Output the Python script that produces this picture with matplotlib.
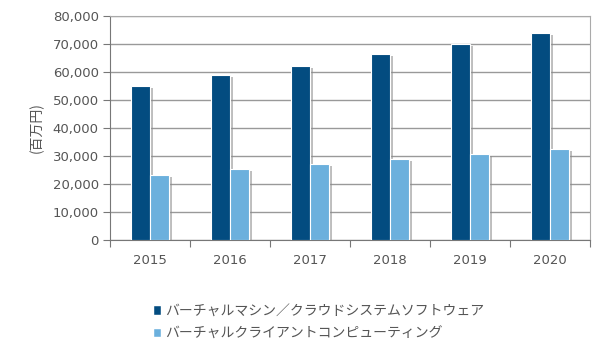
import matplotlib
matplotlib.use('Agg')
import matplotlib.pyplot as plt
import matplotlib.patheffects as pe
from matplotlib.patches import Patch
import numpy as np

plt.rcParams['font.family'] = ['DejaVu Sans', 'Noto Sans CJK JP']

# Datos
anios = ['2015', '2016', '2017', '2018', '2019', '2020']
serie_nombres = ['バーチャルマシン／クラウドシステムソフトウェア', 'バーチャルクライアントコンピューティング']
vm_cloud = [54900, 58800, 62300, 66300, 69900, 73800]
cliente = [23300, 25500, 27300, 29000, 30700, 32500]

colores = ['#034c80', '#6bb0dd']

fig = plt.figure(figsize=(6, 3.56), dpi=100)
ax = fig.add_axes([0.1833, 0.326, 0.80, 0.629])

x = np.arange(len(anios))
ancho = 0.235
sombra = [pe.SimplePatchShadow(offset=(2.5, -1.5), shadow_rgbFace='#8a8a8a', alpha=0.55), pe.Normal()]

b1 = ax.bar(x - ancho / 2, vm_cloud, ancho, color=colores[0], edgecolor='white', linewidth=0.8, zorder=3)
b2 = ax.bar(x + ancho / 2, cliente, ancho, color=colores[1], edgecolor='white', linewidth=0.8, zorder=3)
for barra in list(b1) + list(b2):
    barra.set_path_effects(sombra)

ax.set_xlim(-0.5, len(anios) - 0.5)
ax.set_ylim(0, 80000)
ax.set_yticks(np.arange(0, 80001, 10000))
ax.set_yticklabels([f'{v:,}' for v in range(0, 80001, 10000)], fontsize=9.5, color='#555555')
ax.yaxis.grid(True, color='#999999', linewidth=1, zorder=0)
ax.set_axisbelow(True)

# Ticks del eje X en los límites de categoría, etiquetas en el centro
ax.set_xticks(np.arange(-0.5, len(anios), 1))
ax.set_xticklabels([])
ax.set_xticks(x, minor=True)
ax.set_xticklabels(anios, minor=True, fontsize=9.5, color='#555555')
ax.tick_params(axis='x', which='minor', length=0, pad=10)
ax.tick_params(axis='x', which='major', length=5, color='#777777', direction='out')
ax.tick_params(axis='y', length=5, color='#777777', direction='out', pad=3)

ax.spines['left'].set_color('#777777')
ax.spines['bottom'].set_color('#777777')
ax.spines['top'].set_color('#aaaaaa')
ax.spines['right'].set_color('#aaaaaa')

ax.set_ylabel('(百万円)', fontsize=10, color='#555555', family=['Noto Sans CJK JP', 'DejaVu Sans'],
              labelpad=6)

manijas = [Patch(facecolor=c, edgecolor='white', linewidth=0.3) for c in colores]
leg = fig.legend(handles=manijas, labels=serie_nombres, loc='upper left', bbox_to_anchor=(0.247, 0.16),
                 frameon=False, prop={'family': ['Noto Sans CJK JP', 'DejaVu Sans'], 'size': 10},
                 handlelength=0.55, handleheight=0.55, handletextpad=0.3, labelspacing=0.6,
                 borderaxespad=0)
for t in leg.get_texts():
    t.set_color('#555555')

plt.savefig('out.png', dpi=100)
plt.close()
